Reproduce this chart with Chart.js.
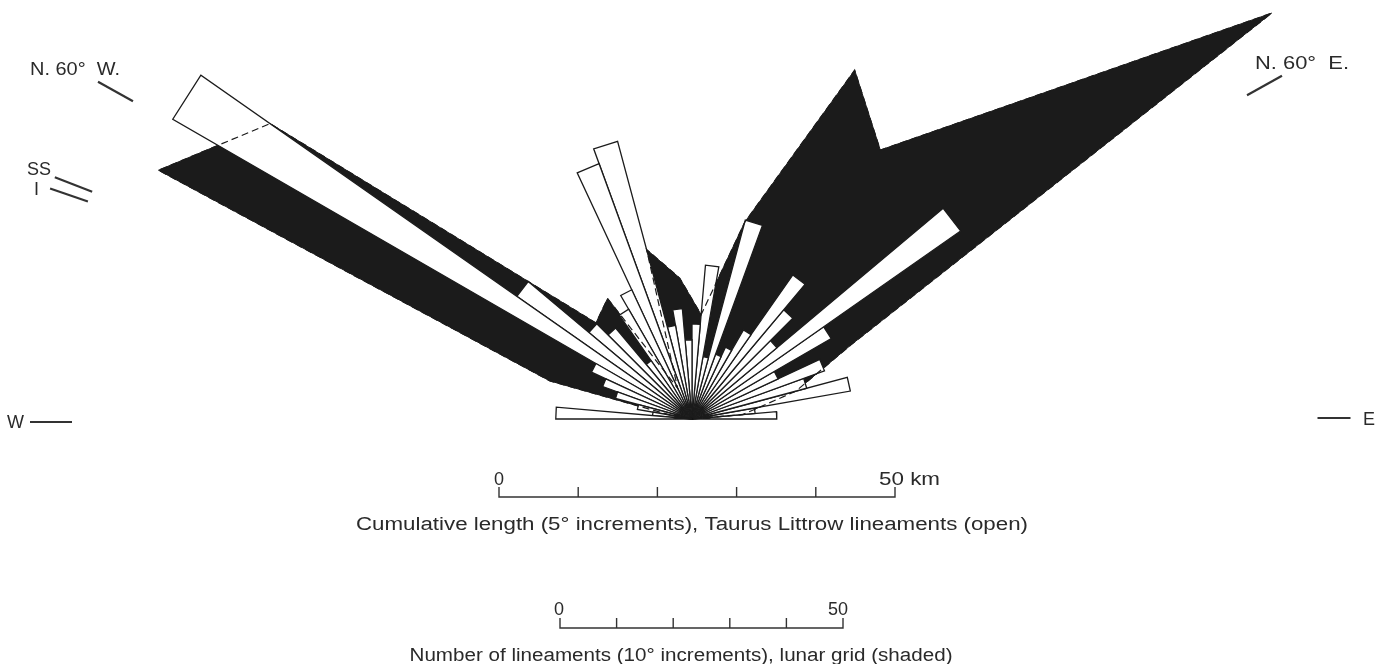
<!DOCTYPE html>
<html>
<head>
<meta charset="utf-8">
<title>Lineament rose diagram</title>
<script src="https://cdn.jsdelivr.net/npm/chart.js@4.4.1/dist/chart.umd.min.js"></script>
<style>
  html, body { margin: 0; padding: 0; background: #fff; }
  #wrap { position: relative; width: 1392px; height: 664px; }
</style>
</head>
<body>
<div id="wrap"><canvas id="rose"></canvas></div>
<script>
// Taurus-Littrow lineaments: cumulative length (km) per 5 degree bin.
// Bin start azimuth in degrees, west negative (-90 = N90W ... 85 = N85E).
const openBinStart = [-90, -85, -80, -75, -70, -65, -60, -55, -50, -45, -40, -35, -30, -25, -20, -15, -10, -5,
                      0, 5, 10, 15, 20, 25, 30, 35, 40, 45, 50, 55, 60, 65, 70, 75, 80, 85];
const openLengthKm = [17.2, 5, 7, 10, 12, 14, 75.7, 27, 17, 15, 9, 16, 18, 34.3, 36.3, 12, 14, 10,
                      12, 19.5, 8, 26, 8.7, 10, 13, 22.2, 18, 14, 41.4, 20.3, 12, 17.8, 15, 20.3, 8, 10.7];

// Lunar grid: number of lineaments per 10 degree bin, plotted at the bin centre
const gridBinCentre = [-85, -75, -65, -55, -45, -35, -25, -15, -5, 5, 15, 25, 35, 45, 55, 65, 75, 85];
const gridCount = [2, 26, 104, 91, 24, 26, 6, 31, 25, 18.5, 36, 68, 58, 78, 125, 31, 19, 9];

// scale bar ticks
const kmTicks = [0, 10, 20, 30, 40, 50];
const countTicks = [0, 10, 20, 30, 40, 50];

// page layout (pixels)
const W = 1392, H = 664;
const ORIGIN = { x: 692, y: 419 };
const PX_PER_KM = 7.92;
const PX_PER_COUNT = 5.66;
const INK = '#1b1b1b';
const FONT = '"Liberation Sans", Arial, sans-serif';

function polar(r, az) {
  const a = az * Math.PI / 180;
  return { x: ORIGIN.x + r * Math.sin(a), y: ORIGIN.y - r * Math.cos(a) };
}

const datasets = [];

// shaded frequency polygon
const gridPoints = [{ x: ORIGIN.x, y: ORIGIN.y }];
gridBinCentre.forEach((az, i) => gridPoints.push(polar(gridCount[i] * PX_PER_COUNT, az)));
gridPoints.push({ x: ORIGIN.x, y: ORIGIN.y });

datasets.push({
  label: 'lunar grid',
  data: gridPoints,
  showLine: true,
  fill: 'shape',
  backgroundColor: INK,
  borderColor: INK,
  borderWidth: 1,
  pointRadius: 0,
  order: 3
});

// open petals, one wedge per 5 degree bin
openBinStart.forEach((az, i) => {
  const r = openLengthKm[i] * PX_PER_KM;
  datasets.push({
    label: 'petal ' + az,
    data: [{ x: ORIGIN.x, y: ORIGIN.y }, polar(r, az), polar(r, az + 5), { x: ORIGIN.x, y: ORIGIN.y }],
    showLine: true,
    fill: 'shape',
    backgroundColor: '#ffffff',
    borderColor: INK,
    borderWidth: 1.3,
    pointRadius: 0,
    order: 2
  });
});

// edge of the shaded polygon where it runs under the petals
datasets.push({
  label: 'grid outline',
  data: gridPoints,
  showLine: true,
  fill: false,
  borderColor: INK,
  borderWidth: 1.2,
  borderDash: [7, 4],
  pointRadius: 0,
  order: 1
});

// scale bars
function scaleBar(ticks, pxPerUnit, x0, y0) {
  const pts = [];
  ticks.forEach(t => {
    const x = x0 + t * pxPerUnit;
    pts.push({ x, y: y0 }, { x, y: y0 - 10 }, { x, y: y0 });
  });
  return pts;
}
datasets.push({
  label: 'km bar',
  data: scaleBar(kmTicks, PX_PER_KM, 499, 497),
  showLine: true, fill: false, borderColor: '#333', borderWidth: 1.4, pointRadius: 0, order: 0
});
datasets.push({
  label: 'count bar',
  data: scaleBar(countTicks, PX_PER_COUNT, 560, 628),
  showLine: true, fill: false, borderColor: '#333', borderWidth: 1.4, pointRadius: 0, order: 0
});

// direction markers
function marker(x, y, az, len) {
  const a = az * Math.PI / 180;
  const dx = Math.sin(a) * len / 2, dy = -Math.cos(a) * len / 2;
  return [{ x: x - dx, y: y - dy }, { x: x + dx, y: y + dy }];
}
[
  marker(115.5, 91.5, -61, 40),   // N. 60 W.
  marker(73.5, 184.5, -69, 40),   // SS
  marker(69, 195, -71, 40),       // I
  marker(1264.5, 85.5, 61, 40),   // N. 60 E.
  marker(51, 422, -90, 42),       // W
  marker(1334, 418, 90, 33)       // E
].forEach((pts, i) => {
  datasets.push({
    label: 'marker ' + i,
    data: pts,
    showLine: true, fill: false, borderColor: '#333', borderWidth: 2.2, pointRadius: 0, order: 0
  });
});

const labels = [
  { text: 'N. 60\u00b0  W.', x: 30, y: 75, size: 18, width: 90 },
  { text: 'SS', x: 27, y: 175, size: 18 },
  { text: 'I', x: 34, y: 195, size: 18 },
  { text: 'W', x: 7, y: 428, size: 18 },
  { text: 'E', x: 1363, y: 425, size: 18 },
  { text: 'N. 60\u00b0  E.', x: 1255, y: 69, size: 18, width: 94 },
  { text: '0', x: 499, y: 485, size: 18, align: 'center' },
  { text: '50 km', x: 879, y: 485, size: 18, width: 61 },
  { text: 'Cumulative length (5\u00b0 increments), Taurus Littrow lineaments (open)', x: 692, y: 530, size: 18, align: 'center', width: 672 },
  { text: '0', x: 559, y: 615, size: 18, align: 'center' },
  { text: '50', x: 838, y: 615, size: 18, align: 'center' },
  { text: 'Number of lineaments (10\u00b0 increments), lunar grid (shaded)', x: 681, y: 661, size: 18, align: 'center', width: 543 }
];

const textPlugin = {
  id: 'roseText',
  afterDraw(chart) {
    const ctx = chart.ctx;
    ctx.save();
    ctx.fillStyle = '#2a2a2a';
    ctx.textBaseline = 'alphabetic';
    labels.forEach(l => {
      ctx.font = l.size + 'px ' + FONT;
      ctx.textAlign = l.align || 'left';
      if (l.width) {
        // fit the label to its printed width
        const w = ctx.measureText(l.text).width;
        ctx.save();
        ctx.translate(l.x, l.y);
        ctx.scale(l.width / w, 1);
        ctx.fillText(l.text, 0, 0);
        ctx.restore();
      } else {
        ctx.fillText(l.text, l.x, l.y);
      }
    });
    ctx.restore();
  }
};

new Chart(document.getElementById('rose'), {
  type: 'scatter',
  data: { datasets },
  options: {
    responsive: true,
    maintainAspectRatio: false,
    animation: false,
    events: [],
    layout: { padding: 0 },
    elements: { line: { tension: 0, borderJoinStyle: 'miter' } },
    plugins: { legend: { display: false }, tooltip: { enabled: false } },
    scales: {
      x: { type: 'linear', min: 0, max: W, display: false },
      y: { type: 'linear', min: 0, max: H, reverse: true, display: false }
    }
  },
  plugins: [textPlugin]
});
</script>
</body>
</html>
